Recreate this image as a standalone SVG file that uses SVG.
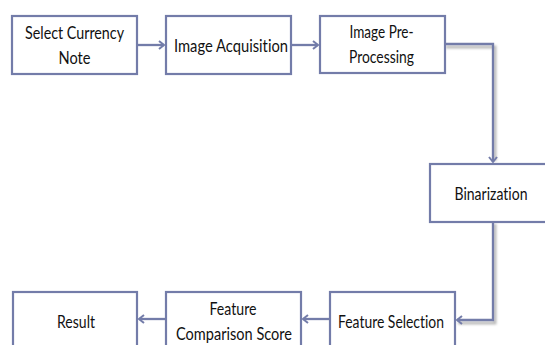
<svg xmlns="http://www.w3.org/2000/svg" width="545" height="345" viewBox="0 0 545 345">
<style>
.box{fill:#fff;stroke:#737ca9;stroke-width:2.2}
.t{font-family:Lato,"Liberation Sans",sans-serif;font-size:16.5px;fill:#111;text-anchor:middle;font-variant-ligatures:none}
.c{fill:none;stroke:#737ca9;stroke-width:2.3}
.sh{fill:none;stroke:#bbb;stroke-width:3;filter:url(#blur)}
</style>
<defs>
<filter id="blur" x="-20%" y="-20%" width="140%" height="140%"><feGaussianBlur stdDeviation="1.2"/></filter>
<marker id="a" markerWidth="8" markerHeight="10" refX="6" refY="5" orient="auto" markerUnits="userSpaceOnUse">
<path d="M1,1 L6,5 L1,9" fill="none" stroke="#737ca9" stroke-width="2"/>
</marker>
</defs>
<g id="connectors">
<path class="sh" d="M138,47 H163"/>
<path class="sh" d="M292,47 H317"/>
<path class="sh" d="M446,47 H495 V161"/>
<path class="sh" d="M495,224 V323 H458"/>
<path class="sh" d="M329,322 H305"/>
<path class="sh" d="M165,322 H141"/>
<path class="c" d="M138,45 H164" marker-end="url(#a)"/>
<path class="c" d="M292,45 H318" marker-end="url(#a)"/>
<path class="c" d="M446,44 H493 V162" marker-end="url(#a)"/>
<path class="c" d="M493,223 V320 H457" marker-end="url(#a)"/>
<path class="c" d="M329,319 H303" marker-end="url(#a)"/>
<path class="c" d="M165,319 H139" marker-end="url(#a)"/>
</g>
<g id="n1"><rect class="box" x="12" y="16" width="125" height="58"/>
<text class="t" x="74.5" y="39" textLength="99" lengthAdjust="spacingAndGlyphs">Select Currency</text>
<text class="t" x="74.5" y="64" textLength="32" lengthAdjust="spacingAndGlyphs">Note</text></g>
<g id="n2"><rect class="box" x="166" y="16" width="125" height="58"/>
<text class="t" x="231" y="52" textLength="114" lengthAdjust="spacingAndGlyphs">Image Acquisition</text></g>
<g id="n3"><rect class="box" x="320" y="16" width="125" height="57"/>
<text class="t" x="381.5" y="38" textLength="64" lengthAdjust="spacingAndGlyphs">Image Pre-</text>
<text class="t" x="381.5" y="63" textLength="65" lengthAdjust="spacingAndGlyphs">Processing</text></g>
<g id="n4"><rect class="box" x="430" y="164" width="118" height="58"/>
<text class="t" x="491" y="200" textLength="73" lengthAdjust="spacingAndGlyphs">Binarization</text></g>
<g id="n5"><rect class="box" x="330" y="292" width="125" height="60"/>
<text class="t" x="391" y="328" textLength="106" lengthAdjust="spacingAndGlyphs">Feature Selection</text></g>
<g id="n6"><rect class="box" x="166" y="292" width="135" height="60"/>
<text class="t" x="233" y="315" textLength="47" lengthAdjust="spacingAndGlyphs">Feature</text>
<text class="t" x="234" y="340" textLength="116" lengthAdjust="spacingAndGlyphs">Comparison Score</text></g>
<g id="n7"><rect class="box" x="13" y="292" width="124" height="60"/>
<text class="t" x="76" y="328" textLength="38" lengthAdjust="spacingAndGlyphs">Result</text></g>
</svg>
